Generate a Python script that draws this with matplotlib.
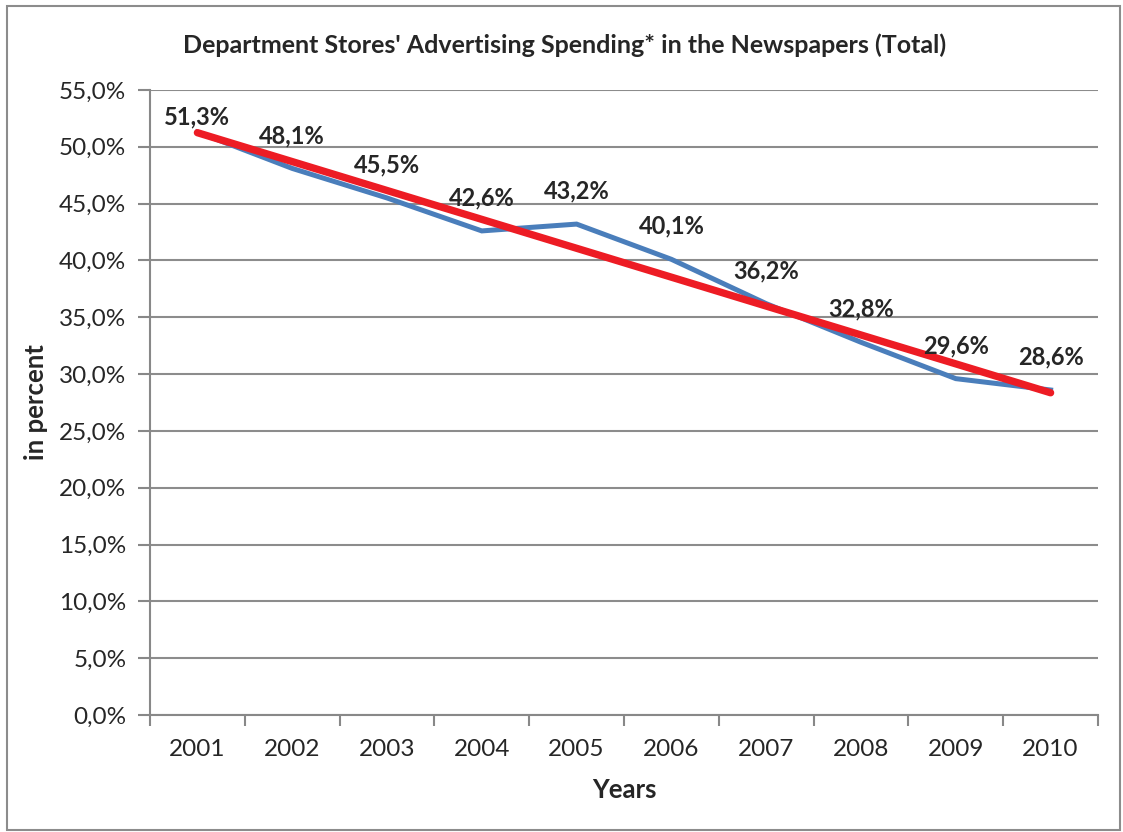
import numpy as np
import matplotlib.pyplot as plt
from matplotlib.patches import Rectangle

years = ['2001', '2002', '2003', '2004', '2005', '2006', '2007', '2008', '2009', '2010']
share = [51.3, 48.1, 45.5, 42.6, 43.2, 40.1, 36.2, 32.8, 29.6, 28.6]

plt.rcParams['font.family'] = ['Lato', 'DejaVu Sans']

fig = plt.figure(figsize=(11.23, 8.32), dpi=100)
ax = fig.add_axes([150/1123, 1 - 715/832, (1098-150)/1123, (715-90)/832])

x = np.arange(len(years))
ax.plot(x, share, color='#4A7EBB', lw=3.6, solid_joinstyle='miter', zorder=3)

# linear trend line
k, b = np.polyfit(x, share, 1)
ax.plot(x, k*x + b, color='#ED1C24', lw=5.3, solid_capstyle='round', zorder=4)

# labels sit above the points, kept inside the plot area (excel-like)
for xi, v in zip(x, share):
    ax.text(xi, min(v + 2.9, 52.6), f'{v:.1f}%'.replace('.', ','),
            ha='center', va='center', fontsize=17, fontweight='bold',
            color='#262626', zorder=5)

ax.set_xlim(-0.5, len(years) - 0.5)
ax.set_ylim(0, 55)
ax.set_yticks(np.arange(0, 56, 5))
ax.set_yticklabels([f'{t:.1f}%'.replace('.', ',') for t in np.arange(0, 56, 5)])
ax.set_xticks(x)
ax.set_xticklabels(years)
ax.set_xticks(np.arange(-0.5, len(years)), minor=True)
ax.tick_params(axis='x', which='major', length=0, pad=17, labelsize=17.5, colors='#262626')
ax.tick_params(axis='x', which='minor', length=8, width=1.5, color='#888888')
ax.tick_params(axis='y', length=9, width=1.5, color='#888888', labelsize=17.5,
               labelcolor='#262626', pad=8)
ax.grid(axis='y', color='#8C8C8C', lw=1.5)
ax.set_axisbelow(True)
for s in ['top', 'right']:
    ax.spines[s].set_visible(False)
for s in ['left', 'bottom']:
    ax.spines[s].set_color('#888888')
    ax.spines[s].set_linewidth(1.5)

ax.set_xlabel('Years', fontsize=18.5, fontweight='bold', color='#262626')
ax.set_ylabel('in percent', fontsize=18.5, fontweight='bold', color='#262626')
ax.xaxis.set_label_coords(0.5, -0.1)
ax.yaxis.set_label_coords(-0.108, 0.5)
fig.text(565/1123, 1 - 45/832, "Department Stores' Advertising Spending* in the Newspapers (Total)",
         ha='center', va='center', fontsize=18, fontweight='bold', color='#262626')

fig.patches.append(Rectangle((7/1123, 1 - 830/832), 1113/1123, 824/832,
                             transform=fig.transFigure, fill=False,
                             edgecolor='#8C8C8C', lw=1.5))

fig.savefig('out.png', dpi=100)
